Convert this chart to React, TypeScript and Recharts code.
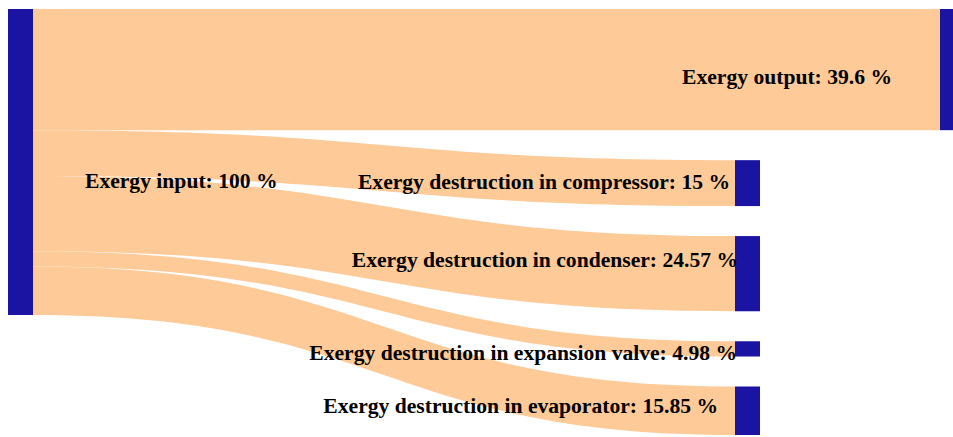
import { Sankey } from "recharts";

const NODE_NAMES = [
  "Exergy input",
  "Exergy output",
  "Exergy destruction in compressor",
  "Exergy destruction in condenser",
  "Exergy destruction in expansion valve",
  "Exergy destruction in evaporator",
];

const LINK_SOURCES = [0, 0, 0, 0, 0];
const LINK_TARGETS = [1, 2, 3, 4, 5];
const LINK_VALUES = [39.6, 15, 24.57, 4.98, 15.85];

const data = {
  nodes: NODE_NAMES.map((name) => ({ name })),
  links: LINK_VALUES.map((value, i) => ({
    source: LINK_SOURCES[i],
    target: LINK_TARGETS[i],
    value,
  })),
};

const LINK_COLOR = "#fdca98";
const NODE_COLOR = "#1b14a3";
const OUTPUT_INDEX = 1;
// the output column sits further right than the destruction column
const OUTPUT_SHIFT = 205;

// label placement per node: x offset (from node right edge for "start", node left edge for "end"),
// baseline offset from node centre
const LABEL_POS: Record<number, { dx: number; dy: number; anchor: "start" | "end" }> = {
  0: { dx: 52, dy: 26, anchor: "start" },
  1: { dx: -48, dy: 14, anchor: "end" },
  2: { dx: -5, dy: 6, anchor: "end" },
  3: { dx: 3, dy: -7, anchor: "end" },
  4: { dx: 2, dy: 11, anchor: "end" },
  5: { dx: -17, dy: 2, anchor: "end" },
};

const nodeIndex = (n: any) =>
  typeof n === "number" ? n : NODE_NAMES.indexOf(n?.name);

function Ribbon(props: any) {
  const { sourceX, sourceY, targetX, targetY, linkWidth, payload } = props;
  const t = nodeIndex(payload.target);
  const tx = targetX + (t === OUTPUT_INDEX ? OUTPUT_SHIFT : 0);
  const cx = sourceX + (tx - sourceX) * 0.5;
  const h = linkWidth / 2;
  const d =
    `M${sourceX},${sourceY - h} C${cx},${sourceY - h} ${cx},${targetY - h} ${tx},${targetY - h}` +
    ` L${tx},${targetY + h} C${cx},${targetY + h} ${cx},${sourceY + h} ${sourceX},${sourceY + h} Z`;
  return <path d={d} fill={LINK_COLOR} stroke="none" />;
}

function Node(props: any) {
  const { x, y, width, height, payload } = props;
  const i = nodeIndex(payload);
  const nx = x + (i === OUTPUT_INDEX ? OUTPUT_SHIFT : 0);
  const pos = LABEL_POS[i];
  const value = +Number(payload.value).toFixed(2);
  const lx = pos.anchor === "start" ? nx + width + pos.dx : nx + pos.dx;
  return (
    <g>
      <rect x={nx} y={y} width={width} height={height} fill={NODE_COLOR} />
      <text
        x={lx}
        y={y + height / 2 + pos.dy}
        textAnchor={pos.anchor}
        fontFamily='"Liberation Serif", "Times New Roman", serif'
        fontWeight="bold"
        fontSize={21.6}
        fill="#000"
      >
        {`${payload.name}: ${value} %`}
      </text>
    </g>
  );
}

export default function App() {
  return (
    <div
      style={{
        position: "absolute",
        left: 0,
        top: 0,
        width: 953,
        height: 437,
        overflow: "hidden",
        background: "#fff",
      }}
    >
      <Sankey
        width={953}
        height={437}
        data={data}
        nodeWidth={25}
        nodePadding={30}
        iterations={0}
        linkCurvature={0.5}
        margin={{ top: 9, right: 193, bottom: 2, left: 8 }}
        node={(p: any) => <Node {...p} />}
        link={(p: any) => <Ribbon {...p} />}
      />
    </div>
  );
}
